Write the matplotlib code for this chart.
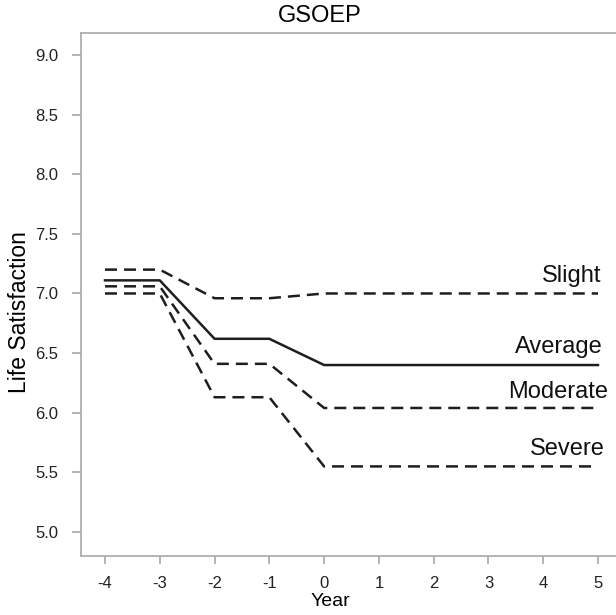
import matplotlib
matplotlib.use("Agg")
import matplotlib.pyplot as plt

plt.rcParams["font.family"] = ["Liberation Sans", "DejaVu Sans"]

#Data
years = [-4, -3, -2, -1, 0, 1, 2, 3, 4, 5]
average = [7.11, 7.11, 6.62, 6.62, 6.40, 6.40, 6.40, 6.40, 6.40, 6.40]
slight = [7.20, 7.20, 6.96, 6.96, 7.00, 7.00, 7.00, 7.00, 7.00, 7.00]
moderate = [7.06, 7.06, 6.41, 6.41, 6.04, 6.04, 6.04, 6.04, 6.04, 6.04]
severe = [7.00, 7.00, 6.13, 6.13, 5.55, 5.55, 5.55, 5.55, 5.55, 5.55]

y_ticks = [5.0, 5.5, 6.0, 6.5, 7.0, 7.5, 8.0, 8.5, 9.0]

#Line labels (text, x, y)
labels = [("Slight", 5.07, 7.15),
          ("Average", 5.09, 6.55),
          ("Moderate", 5.18, 6.17),
          ("Severe", 5.13, 5.70)]

#plot figure
fig = plt.figure(figsize=(6.16, 6.15), dpi=100)
ax = fig.add_axes([81/616, 59.5/615, (625-81)/616, 522.5/615])

line_col = "#1e1e1e"
gray = "#a8a8a8"
dash = (4.8, 2.8)

ax.plot(years, average, color=line_col, lw=1.8)
for series in (slight, moderate, severe):
    ax.plot(years, series, color=line_col, lw=1.8, linestyle=(0, dash))

for txt, x, y in labels:
    ax.text(x, y, txt, ha="right", va="center", fontsize=17, color="#111111")

ax.set_xlim(-4.438, 5.493)
ax.set_ylim(4.803, 9.184)
ax.set_xticks(years)
ax.set_xticklabels([str(v) for v in years])
ax.set_yticks(y_ticks)
ax.set_yticklabels(["%.1f" % v for v in y_ticks])

for side in ("left", "bottom", "top", "right"):
    ax.spines[side].set_color(gray)
    ax.spines[side].set_linewidth(1.2)

ax.tick_params(axis="both", direction="out", color=gray, width=1.2,
               labelsize=12, labelcolor="#222222")
ax.tick_params(axis="y", length=6.5, pad=10)
ax.tick_params(axis="x", length=6, pad=9)

#Titles
fig.text(320/616, 1 - 16/615, "GSOEP", ha="center", va="center", fontsize=17)
fig.text(330/616, 1 - 601/615, "Year", ha="center", va="center", fontsize=14)
fig.text(20/616, 1 - 312/615, "Life Satisfaction", ha="center", va="center",
         rotation=90, fontsize=16.5)

fig.savefig("out.png", dpi=100)
